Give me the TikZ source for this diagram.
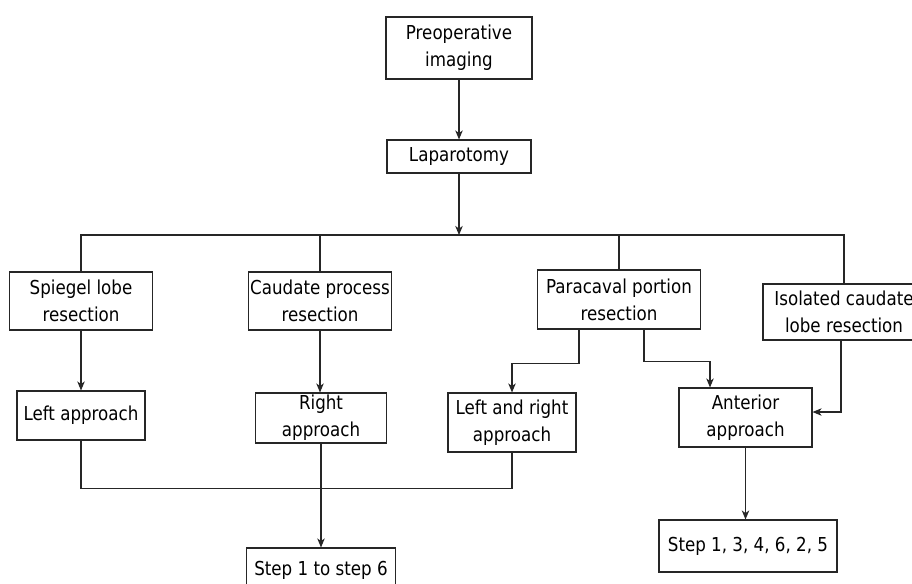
\documentclass[tikz,border=0pt]{standalone}
\usepackage{fontspec}
\setmainfont{DejaVu Sans}[FakeStretch=0.87]
\usetikzlibrary{arrows.meta,calc}
\begin{document}
\begin{tikzpicture}[x=0.75pt,y=-0.75pt,
  box/.style={draw=black!85,line width=0.8pt,fill=white,align=center,inner sep=1pt,
    font=\fontsize{14.4}{20.25}\selectfont},
  ln/.style={draw=black!85,line width=0.8pt},
  arr/.style={ln,-{Stealth[length=6.8pt,width=5.6pt,inset=2pt]}}]
\useasboundingbox[fill=white] (0,0) rectangle (912,583);
\node[box,minimum width=109.5pt,minimum height=46.5pt] (pre) at (459,48) {Preoperative\\imaging};
\node[box,minimum width=108pt,minimum height=24.75pt] (lap) at (459,156.5) {Laparotomy};
\coordinate (bus) at (459,235);
\node[box,minimum width=107.25pt,minimum height=43.5pt] (sp) at (81,301) {Spiegel lobe\\resection};
\node[box,minimum width=107.25pt,minimum height=43.5pt] (cp) at (320,301) {Caudate process\\resection};
\node[box,minimum width=122.25pt,minimum height=44.25pt] (pc) at (619,299.5) {Paracaval portion\\resection};
\node[box,minimum width=121.5pt,minimum height=42pt] (ic) at (844,312) {Isolated caudate\\lobe resection};
\node[box,minimum width=96pt,minimum height=36.75pt] (la) at (81,415.5) {Left approach};
\node[box,minimum width=98.25pt,minimum height=37.5pt] (ra) at (321,418) {Right\\approach};
\node[box,minimum width=96pt,minimum height=44.25pt] (lra) at (512,422.5) {Left and right\\approach};
\node[box,minimum width=99.75pt,minimum height=44.25pt] (aa) at (745.5,417.5) {Anterior\\approach};
\node[box,minimum width=111.75pt,minimum height=33pt] (s16) at (321,570) {Step 1 to step 6};
\node[box,minimum width=133.5pt,minimum height=39pt] (s134) at (748,546) {Step 1, 3, 4, 6, 2, 5};
% connectors
\draw[arr] (pre.south) -- (lap.north);
\draw[arr] (lap.south) -- (bus);
\draw[ln] (sp.north) -- (sp.north |- bus) -- (ic.north |- bus) -- (ic.north);
\draw[ln] (cp.north) -- (cp.north |- bus);
\draw[ln] (pc.north) -- (pc.north |- bus);
\draw[arr] (sp.south) -- (sp.south |- la.north);
\draw[arr] (cp.south) -- (cp.south |- ra.north);
\draw[arr] ($(pc.south)+(-40,0)$) -- ++(0,34) -| (lra.north);
\draw[arr] ($(pc.south)+(25,0)$) -- ++(0,32) -| ($(aa.north)+(-35.5,0)$);
\draw[arr] ($(ic.south)+(-3,0)$) |- ($(aa.east)+(0,-5.5)$);
\draw[arr] (aa.south) -- (aa.south |- s134.north);
\draw[ln] (la.south) -- ++(0,48) -| (lra.south);
\draw[arr] (ra.south) -- (ra.south |- s16.north);
\end{tikzpicture}
\end{document}
